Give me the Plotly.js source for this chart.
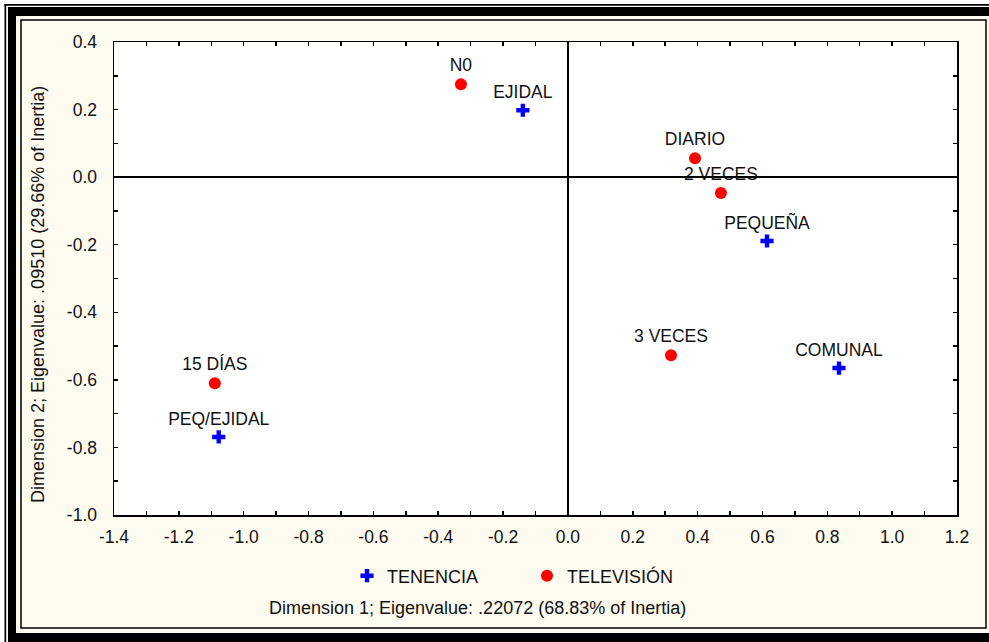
<!DOCTYPE html>
<html><head><meta charset="utf-8">
<script src="https://cdn.plot.ly/plotly-3.0.1.min.js"></script>
<style>html,body{margin:0;padding:0;background:#fff}</style>
</head><body><div id="chart" style="width:989px;height:642px"></div>
<script>
const tenenciaLabels = ["EJIDAL", "PEQUEÑA", "COMUNAL", "PEQ/EJIDAL"];
const tenenciaX = [-0.139, 0.614, 0.836, -1.077];
const tenenciaY = [0.198, -0.189, -0.565, -0.769];

const televisionLabels = ["N0", "DIARIO", "2 VECES", "3 VECES", "15 DÍAS"];
const televisionX = [-0.330, 0.392, 0.472, 0.318, -1.089];
const televisionY = [0.275, 0.056, -0.047, -0.527, -0.610];

const xTickVals = [-1.4, -1.2, -1.0, -0.8, -0.6, -0.4, -0.2, 0.0, 0.2, 0.4, 0.6, 0.8, 1.0, 1.2];
const xTickText = ["-1.4", "-1.2", "-1.0", "-0.8", "-0.6", "-0.4", "-0.2", "0.0", "0.2", "0.4", "0.6", "0.8", "1.0", "1.2"];
const yTickVals = [-1.0, -0.8, -0.6, -0.4, -0.2, 0.0, 0.2, 0.4];
const yTickText = ["-1.0", "-0.8", "-0.6", "-0.4", "-0.2", "0.0", "0.2", "0.4"];

const xTitle = "Dimension 1; Eigenvalue: .22072 (68.83% of Inertia)";
const yTitle = "Dimension 2; Eigenvalue: .09510 (29.66% of Inertia)";

const FONT = "Liberation Sans, Arial, sans-serif";
const CREAM = "#FDFBEF";
const L = 114, T = 42, W = 843, H = 473;
function px(x) { return (x - L) / W; }
function py(y) { return (T + H - y) / H; }
function rect(x0, y0, x1, y1, fill) {
  return {type: 'rect', xref: 'paper', yref: 'paper', layer: 'above',
    x0: px(x0), x1: px(x1), y0: py(y1), y1: py(y0),
    fillcolor: fill, line: {width: 0}};
}

const shapes = [
  rect(0, 0, 989, 7, '#ffffff'),
  rect(0, 0, 8, 642, '#ffffff'),
  rect(4.5, 4, 989, 5.7, '#000000'),
  rect(4.5, 4, 6.2, 642, '#000000'),
  rect(8, 7, 989, 16, '#000000'),
  rect(8, 7, 16, 642, '#000000'),
  rect(8, 633, 989, 642, '#000000'),
  {type: 'rect', xref: 'paper', yref: 'paper', layer: 'above',
    x0: px(21), x1: px(986), y0: py(628), y1: py(20),
    line: {color: '#000000', width: 1.5}, fillcolor: 'rgba(0,0,0,0)'}
];

const traces = [
  {type: 'scatter', mode: 'markers+text', name: 'TENENCIA',
   x: tenenciaX, y: tenenciaY, text: tenenciaLabels,
   textposition: 'top center', textfont: {family: FONT, size: 17.5, color: '#111'},
   marker: {symbol: 'cross', size: 11, color: '#0000FF'}, cliponaxis: false},
  {type: 'scatter', mode: 'markers+text', name: 'TELEVISIÓN',
   x: televisionX, y: televisionY, text: televisionLabels,
   textposition: 'top center', textfont: {family: FONT, size: 17.5, color: '#111'},
   marker: {symbol: 'circle', size: 12, color: '#FF0000'}, cliponaxis: false}
];

const axisCommon = {
  tickmode: 'array', ticks: 'inside', ticklen: 4, tickwidth: 1.5, tickcolor: '#000',
  showline: true, linecolor: '#000', linewidth: 1.5, mirror: 'ticks',
  showgrid: false, zeroline: true, zerolinecolor: '#000', zerolinewidth: 1.5,
  tickfont: {family: FONT, size: 17.5, color: '#111'},
  minor: {tickmode: 'linear', tick0: 0, dtick: 0.1, ticks: 'inside', ticklen: 4,
          tickwidth: 1.5, tickcolor: '#000', showgrid: false}
};

const layout = {
  width: 989, height: 642,
  margin: {l: L, r: 989 - L - W, t: T, b: 642 - T - H},
  paper_bgcolor: CREAM, plot_bgcolor: '#ffffff',
  font: {family: FONT, color: '#111'},
  xaxis: Object.assign({}, axisCommon, {range: [-1.4, 1.2], tickvals: xTickVals, ticktext: xTickText, ticklabelstandoff: 5}),
  yaxis: Object.assign({}, axisCommon, {range: [-1.0, 0.4], tickvals: yTickVals, ticktext: yTickText, ticklabelstandoff: 12}),
  showlegend: true,
  legend: {orientation: 'h', x: px(347), xanchor: 'left', y: py(576), yanchor: 'middle',
           font: {family: FONT, size: 18, color: '#111'}, bgcolor: 'rgba(0,0,0,0)',
           entrywidth: 135, itemclick: false},
  annotations: [
    {text: xTitle, xref: 'paper', yref: 'paper', x: px(477), y: py(608),
     xanchor: 'center', yanchor: 'middle', showarrow: false,
     font: {family: FONT, size: 18, color: '#111'}},
    {text: yTitle, xref: 'paper', yref: 'paper', x: px(38), y: py(295),
     xanchor: 'center', yanchor: 'middle', showarrow: false, textangle: -90,
     font: {family: FONT, size: 18, color: '#111'}}
  ],
  shapes: shapes
};

Plotly.newPlot('chart', traces, layout, {displayModeBar: false, staticPlot: true});
</script>
</body></html>
